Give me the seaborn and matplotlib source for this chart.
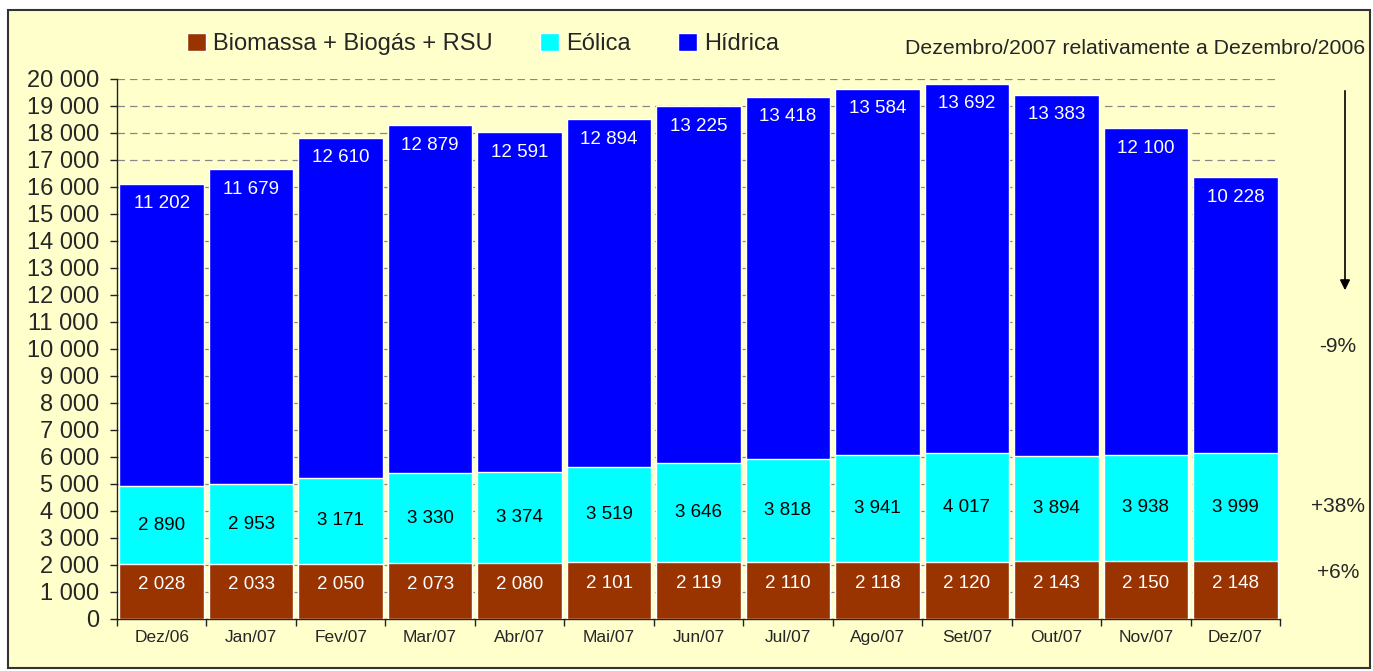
import numpy as np
import pandas as pd
import matplotlib
matplotlib.use('Agg')
import matplotlib.pyplot as plt
import seaborn as sns
from matplotlib.patches import Rectangle, Patch
from matplotlib.ticker import FuncFormatter, MultipleLocator, FixedLocator

sns.set_style('white')
plt.rcParams['font.family'] = ['Liberation Sans', 'DejaVu Sans']

months = ['Dez/06', 'Jan/07', 'Fev/07', 'Mar/07', 'Abr/07', 'Mai/07', 'Jun/07',
          'Jul/07', 'Ago/07', 'Set/07', 'Out/07', 'Nov/07', 'Dez/07']
biomassa = [2028, 2033, 2050, 2073, 2080, 2101, 2119, 2110, 2118, 2120, 2143, 2150, 2148]
eolica = [2890, 2953, 3171, 3330, 3374, 3519, 3646, 3818, 3941, 4017, 3894, 3938, 3999]
hidrica = [11202, 11679, 12610, 12879, 12591, 12894, 13225, 13418, 13584, 13692, 13383, 12100, 10228]
variacoes = ['-9%', '+38%', '+6%']

df = pd.DataFrame({'mes': months, 'bio': biomassa, 'eol': eolica, 'hid': hidrica})
df['bio_eol'] = df['bio'] + df['eol']
df['total'] = df['bio_eol'] + df['hid']

c_bio = '#993300'
c_eol = '#00FFFF'
c_hid = '#0000FF'
bg = '#FFFFCC'

fig = plt.figure(figsize=(13.73, 6.71), dpi=100)
fig.patch.set_facecolor('white')
# yellow panel with border around everything
fig.patches.append(Rectangle((8 / 1373, 3 / 671), 1362 / 1373, 658 / 671, transform=fig.transFigure,
                             facecolor=bg, edgecolor='#333333', linewidth=1.5, zorder=-1))

ax = fig.add_axes([0.0852, 0.0775, 0.8471, 0.8048])
ax.set_facecolor(bg)

# stacked bars drawn as overlapping cumulative totals
w = 0.945
sns.barplot(data=df, x='mes', y='total', color=c_hid, width=w, saturation=1, ax=ax, zorder=3)
sns.barplot(data=df, x='mes', y='bio_eol', color=c_eol, width=w, saturation=1, ax=ax, zorder=3)
sns.barplot(data=df, x='mes', y='bio', color=c_bio, width=w, saturation=1, ax=ax, zorder=3)

for i, row in df.iterrows():
    ax.text(i, row['bio'] / 2 + 250, f"{row['bio']:,}".replace(',', ' '), ha='center', va='center',
            color='white', fontsize=13.5, zorder=5)
    ax.text(i, row['bio'] + row['eol'] / 2, f"{row['eol']:,}".replace(',', ' '), ha='center', va='center',
            color='black', fontsize=13.5, zorder=5)
    ax.text(i, row['total'] - 750, f"{row['hid']:,}".replace(',', ' '), ha='center', va='center',
            color='white', fontsize=13.5, zorder=5)

ax.set_xlim(-0.5, len(months) - 0.5)
ax.set_ylim(0, 20000)
ax.yaxis.set_major_locator(MultipleLocator(1000))
ax.yaxis.set_major_formatter(FuncFormatter(lambda v, p: f"{int(v):,}".replace(',', ' ')))
ax.yaxis.grid(True, linestyle=(0, (6, 4)), color='#888888', linewidth=0.9)
ax.set_axisbelow(True)
ax.set_xlabel('')
ax.set_ylabel('')

for s in ['top', 'right']:
    ax.spines[s].set_visible(False)
for s in ['left', 'bottom']:
    ax.spines[s].set_color('#222222')
    ax.spines[s].set_linewidth(1)

ax.tick_params(axis='y', labelsize=17, length=5, width=1, color='#222222', left=True, pad=8)
ax.tick_params(axis='x', which='major', labelsize=12.5, length=0, pad=8)
ax.xaxis.set_minor_locator(FixedLocator(np.arange(-0.5, len(months), 1.0)))
ax.tick_params(axis='x', which='minor', length=5, width=1, color='#222222', bottom=True)

handles = [Patch(facecolor=c_bio, label='Biomassa + Biogás + RSU'),
           Patch(facecolor=c_eol, label='Eólica'),
           Patch(facecolor=c_hid, label='Hídrica')]
fig.legend(handles=handles, loc='center', bbox_to_anchor=(483 / 1373, 1 - 44 / 671), ncol=3, frameon=False,
           fontsize=17, handlelength=0.8, handleheight=0.8, handletextpad=0.3, columnspacing=2.0)

fig.text(1365 / 1373, 1 - 49 / 671, 'Dezembro/2007 relativamente a Dezembro/2006', ha='right', va='center',
         fontsize=15.3)
ax.annotate('', xy=(1345 / 1373, 1 - 293 / 671), xytext=(1345 / 1373, 1 - 88 / 671),
            xycoords='figure fraction', textcoords='figure fraction',
            arrowprops=dict(arrowstyle='-|>', color='black', lw=1.2, mutation_scale=15))
for txt, ypx in zip(variacoes, [347, 506, 572]):
    fig.text(1338 / 1373, 1 - ypx / 671, txt, ha='center', va='center', fontsize=15)

fig.savefig('out.png', dpi=100, facecolor=fig.get_facecolor())
